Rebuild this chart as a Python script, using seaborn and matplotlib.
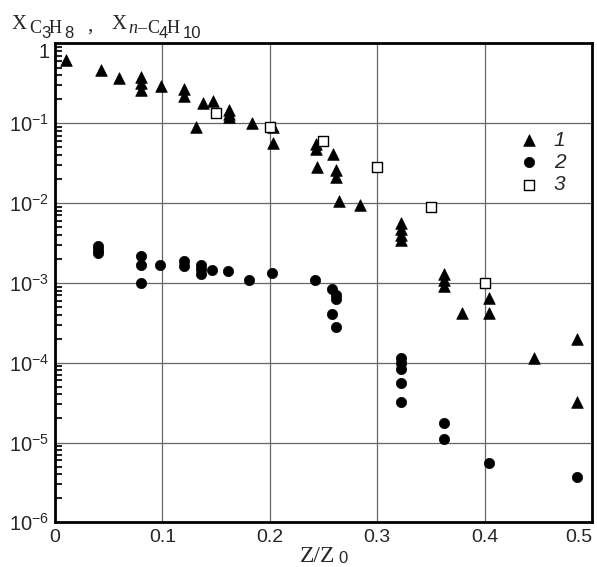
import numpy as np
import pandas as pd
import matplotlib
matplotlib.use('Agg')
import matplotlib.pyplot as plt
import matplotlib.ticker as mticker
import seaborn as sns

# series 1: triangles
z1 = [0.010, 0.043, 0.060, 0.080, 0.080, 0.080, 0.099, 0.120, 0.120, 0.131, 0.138, 0.147,
      0.162, 0.162, 0.162, 0.183, 0.203, 0.203, 0.243, 0.243, 0.259, 0.244, 0.262, 0.262,
      0.264, 0.284, 0.322, 0.322, 0.322, 0.322, 0.362, 0.362, 0.362, 0.379, 0.404, 0.404,
      0.446, 0.486, 0.486]
x1 = [0.62, 0.47, 0.37, 0.38, 0.32, 0.26, 0.29, 0.27, 0.22, 0.089, 0.18, 0.19,
      0.147, 0.13, 0.119, 0.10, 0.089, 0.057, 0.055, 0.048, 0.041, 0.028, 0.026, 0.021,
      0.0107, 0.0095, 0.0056, 0.0047, 0.004, 0.0034, 0.0013, 0.0011, 0.00092, 0.00042, 0.00064, 0.00042,
      0.000116, 0.0002, 0.000032]

# series 2: circles
z2 = [0.040, 0.040, 0.040, 0.080, 0.080, 0.080, 0.098, 0.120, 0.120, 0.136, 0.136, 0.136,
      0.146, 0.161, 0.181, 0.202, 0.242, 0.258, 0.262, 0.262, 0.258, 0.262, 0.322, 0.322,
      0.322, 0.322, 0.322, 0.362, 0.362, 0.404, 0.486]
x2 = [0.0029, 0.0026, 0.0024, 0.00217, 0.00168, 0.00099, 0.0017, 0.0019, 0.00163, 0.00168, 0.00148, 0.0013,
      0.00145, 0.00142, 0.0011, 0.00132, 0.0011, 0.00085, 0.00071, 0.00062, 0.00041, 0.00028, 0.000113, 0.0001,
      0.000083, 0.000055, 0.000032, 0.0000174, 0.000011, 0.0000056, 0.0000037]

# series 3: open squares
z3 = [0.15, 0.20, 0.25, 0.30, 0.35, 0.40]
x3 = [0.133, 0.089, 0.060, 0.0286, 0.009, 0.001]

y_ticks = [1e-6, 1e-5, 1e-4, 1e-3, 1e-2, 1e-1, 1]
y_labels = ['10$^{-6}$', '10$^{-5}$', '10$^{-4}$', '10$^{-3}$', '10$^{-2}$', '10$^{-1}$', '1']
x_ticks = [0, 0.1, 0.2, 0.3, 0.4, 0.5]
x_labels = ['0', '0.1', '0.2', '0.3', '0.4', '0.5']

sns.set_style('white')
plt.rcParams['font.family'] = ['Liberation Sans', 'DejaVu Sans']
plt.rcParams['mathtext.fontset'] = 'custom'
plt.rcParams['mathtext.rm'] = 'Liberation Sans'
plt.rcParams['mathtext.it'] = 'Liberation Sans:italic'

W, H = 597, 567
fig = plt.figure(figsize=(5.97, 5.67), dpi=100)
ax = fig.add_axes([0.0921, 0.0788, 0.8995, 0.8445])

d1 = pd.DataFrame({'z': z1, 'x': x1})
d2 = pd.DataFrame({'z': z2, 'x': x2})
d3 = pd.DataFrame({'z': z3, 'x': x3})

sns.scatterplot(data=d1, x='z', y='x', marker='^', s=70, color='black', edgecolor='black',
                linewidth=0.5, label='1', ax=ax, zorder=3)
sns.scatterplot(data=d2, x='z', y='x', marker='o', s=55, color='black', edgecolor='black',
                linewidth=0.5, label='2', ax=ax, zorder=3)
sns.scatterplot(data=d3, x='z', y='x', marker='s', s=60, facecolor='white', edgecolor='black',
                linewidth=1.0, label='3', ax=ax, zorder=4)

ax.set_yscale('log')
ax.set_xlim(0, 0.5)
ax.set_ylim(1e-6, 1)
ax.set_yticks(y_ticks)
ax.set_yticklabels(y_labels)
ax.set_xticks(x_ticks)
ax.set_xticklabels(x_labels)
ax.yaxis.set_minor_locator(mticker.LogLocator(base=10, subs=np.arange(2, 10), numticks=20))
ax.yaxis.set_minor_formatter(mticker.NullFormatter())

ax.tick_params(axis='y', which='major', labelsize=14.5, length=0, pad=4)
ax.tick_params(axis='x', which='major', labelsize=14, length=0, pad=5)
ax.tick_params(axis='y', which='minor', direction='in', length=5, width=1.5, left=True)
ax.grid(True, which='major', color='#666666', linewidth=0.9)
for s in ax.spines.values():
    s.set_linewidth(2)
    s.set_color('black')
ax.set_xlabel('')
ax.set_ylabel('')

# label tweaks as in the original: "1" sits below the top, "0.5" kept inside
ax.get_yticklabels()[-1].set_va('top')
ax.get_xticklabels()[-1].set_ha('right')

leg = ax.legend(loc='upper left', bbox_to_anchor=(0.828, 0.835), frameon=False,
                handletextpad=0.2, labelspacing=0.15, fontsize=15,
                borderaxespad=0)
for t in leg.get_texts():
    t.set_fontstyle('italic')


def put(s, px, py, size=13, fam='Liberation Serif', style='normal'):
    # place a text piece by its left edge and baseline, in pixels from top-left
    fig.text(px / W, 1 - py / H, s, fontsize=size, family=fam, style=style,
             ha='left', va='baseline')


# axis title: X_C3H8, X_n-C4H10 (large subscripts, as in the original)
put('X', 12, 29, 15)
put('C', 29, 33, 13)
put('3', 41, 38, 12, 'Liberation Sans')
put('H', 49, 33, 13)
put('8', 64, 38, 12, 'Liberation Sans')
put(',', 87, 31, 15)
put('X', 112, 29, 15)
put('n', 128, 33, 13, style='italic')
put('\u2013', 137, 33, 13)
put('C', 147, 33, 13)
put('4', 159, 38, 12, 'Liberation Sans')
put('H', 167, 33, 13)
put('10', 183, 38, 12, 'Liberation Sans')

# x axis title: Z/Z0
put('Z/Z', 300, 562, 17)
put('0', 338, 563, 12, 'Liberation Sans')

fig.savefig('out.png', dpi=100)
